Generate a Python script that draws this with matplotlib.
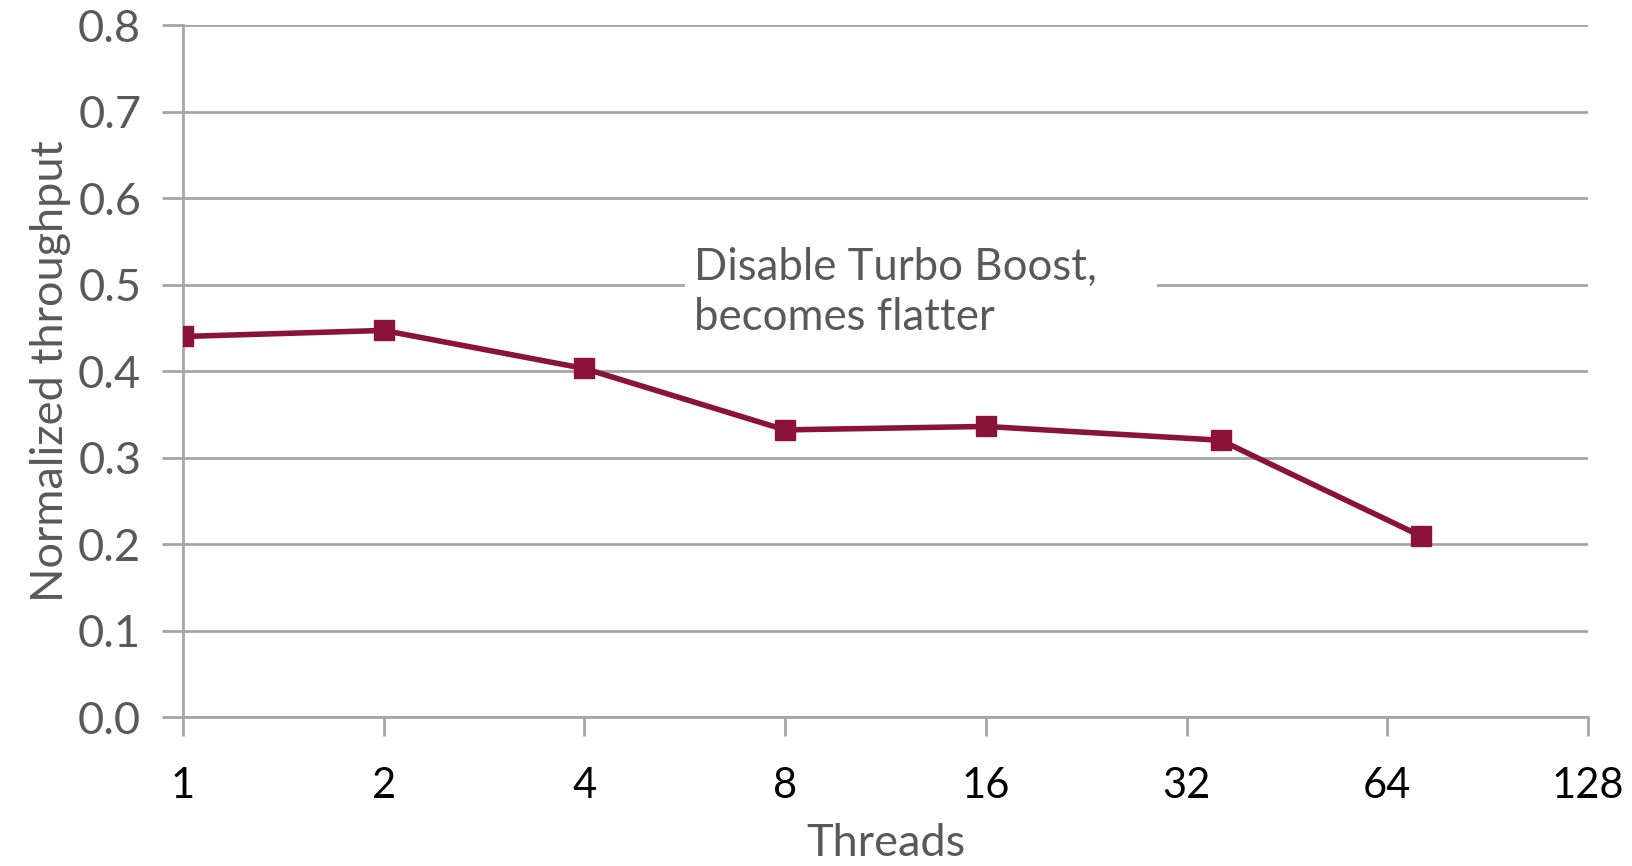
import matplotlib.pyplot as plt
from matplotlib.patches import Rectangle

# Throughput vs. thread count with Turbo Boost disabled
threads = [1, 2, 4, 8, 16, 36, 72]
throughput = [0.440, 0.447, 0.403, 0.332, 0.336, 0.320, 0.209]
xticks = [1, 2, 4, 8, 16, 32, 64, 128]
yticks = [0.0, 0.1, 0.2, 0.3, 0.4, 0.5, 0.6, 0.7, 0.8]

plt.rcParams['font.family'] = ['Lato', 'DejaVu Sans']
grey_text = "#595959"
grid_col = "#A6A6A6"
line_col = "#8B1238"

fig = plt.figure(figsize=(16.33, 8.66), dpi=100)
ax = fig.add_axes([0.112, 0.172, 0.8605, 0.799])

ax.set_xscale("log", base=2)
ax.set_xlim(1, 128)
ax.set_ylim(0, 0.8)
ax.set_xticks(xticks)
ax.set_xticklabels([str(t) for t in xticks])
ax.set_yticks(yticks)
ax.set_yticklabels([f"{v:.1f}" for v in yticks])
ax.minorticks_off()

# horizontal grid only
ax.yaxis.grid(True, color=grid_col, linewidth=2)
ax.set_axisbelow(True)
for side in ["top", "right"]:
    ax.spines[side].set_visible(False)
for side in ["left", "bottom"]:
    ax.spines[side].set_color(grid_col)
    ax.spines[side].set_linewidth(2)

ax.tick_params(axis="x", length=14, width=2, color=grid_col, pad=22,
               labelsize=30, labelcolor="black")
ax.tick_params(axis="y", length=15, width=2, color=grid_col, pad=15,
               labelsize=32.5, labelcolor=grey_text)

ax.plot(threads, throughput, color=line_col, linewidth=4,
        marker="s", markersize=14.5, zorder=3)

ax.set_xlabel("Threads", fontsize=32.5, color=grey_text, labelpad=13)
ax.set_ylabel("Normalized throughput", fontsize=32.5, color=grey_text, labelpad=5)

# white text box over the gridline
ax.add_patch(Rectangle((0.357, 0.53), 0.336, 0.19, transform=ax.transAxes,
                       facecolor="white", edgecolor="none", zorder=2))
ax.text(0.364, 0.68, "Disable Turbo Boost,\nbecomes flatter",
        transform=ax.transAxes, fontsize=31.5, color=grey_text,
        ha="left", va="top", linespacing=1.3, zorder=3)

fig.savefig("out.png", dpi=100)
